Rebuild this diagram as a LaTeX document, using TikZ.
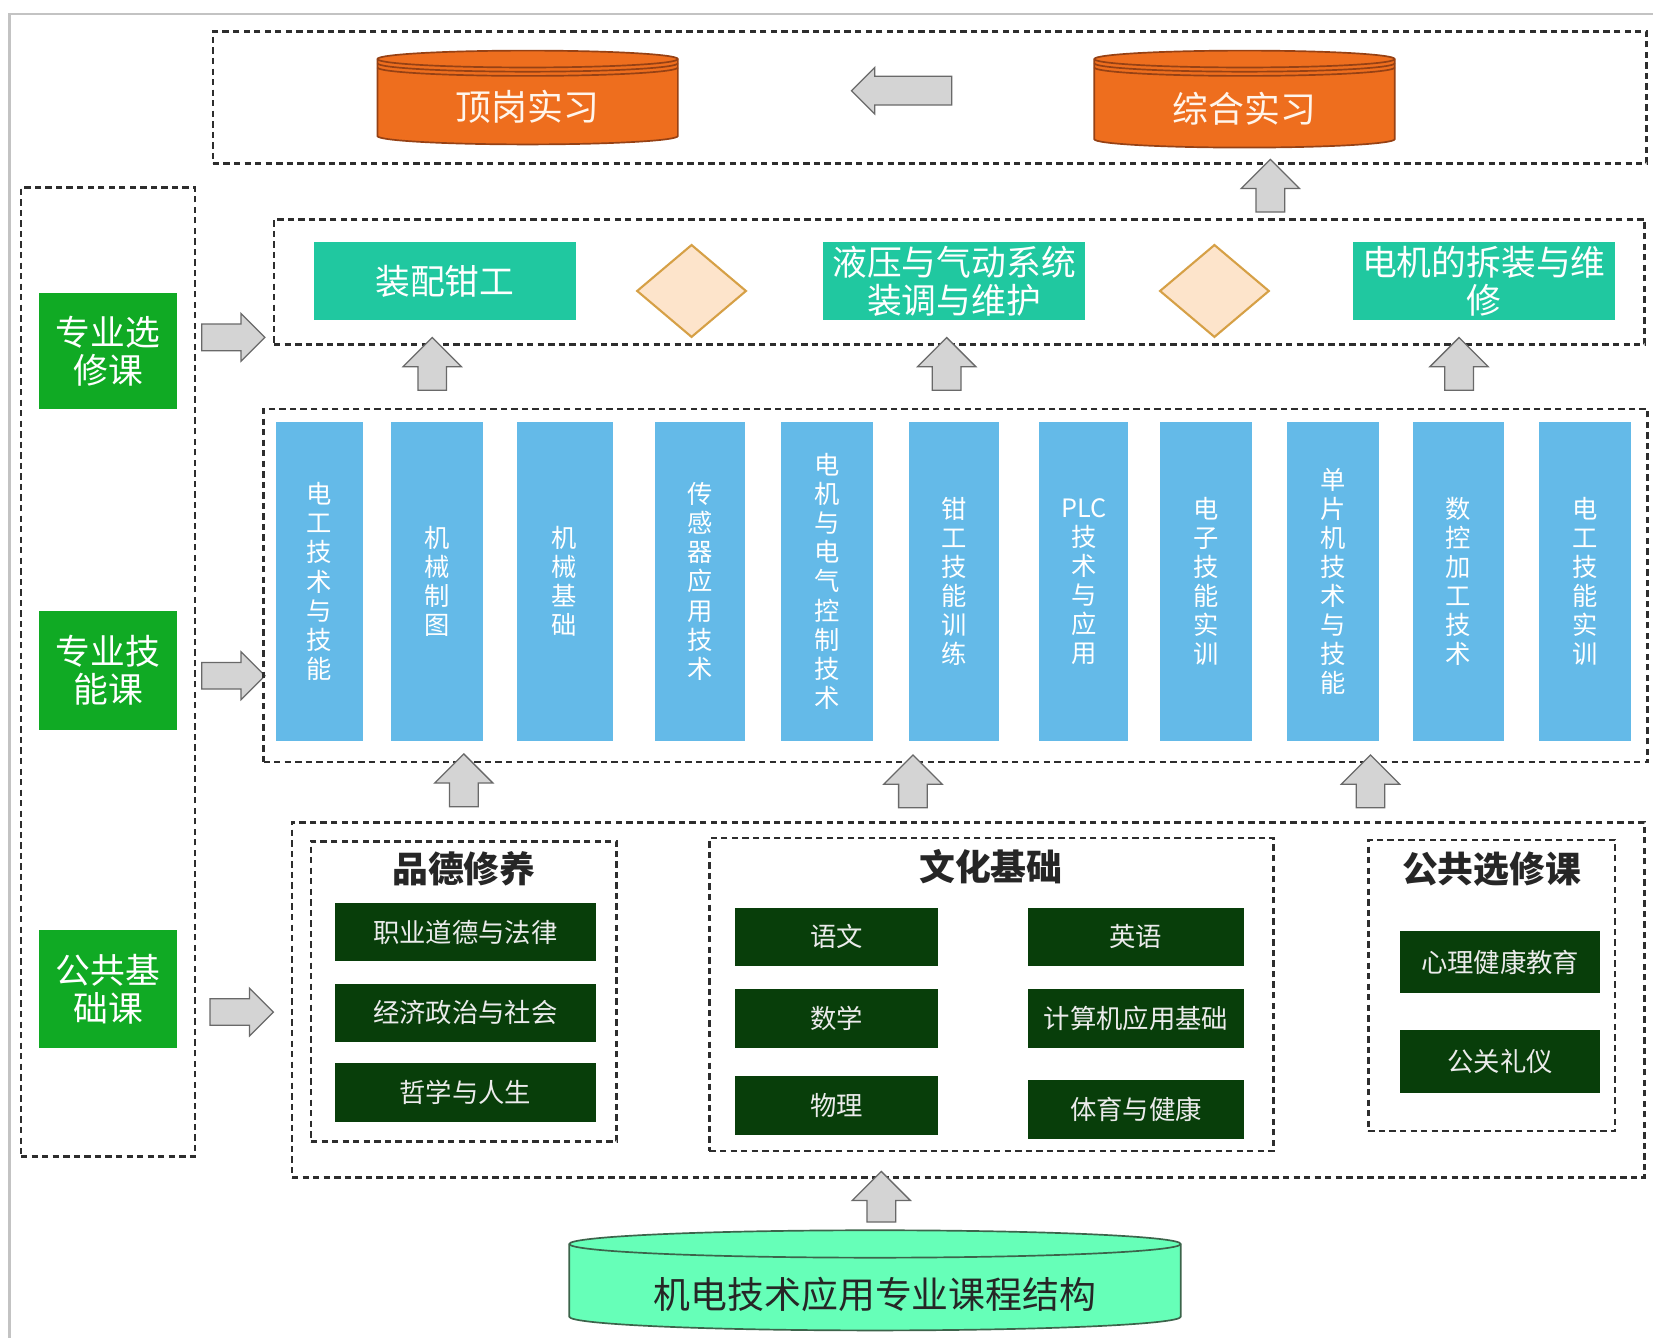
\documentclass[tikz,border=0pt]{standalone}
\usepackage{fontspec}
\setmainfont{Noto Sans CJK SC}
\usetikzlibrary{shapes.geometric,shapes.arrows}
\definecolor{lblgreen}{RGB}{16,170,36}
\definecolor{tealbox}{RGB}{32,200,160}
\definecolor{peach}{RGB}{253,228,203}
\definecolor{goldline}{RGB}{214,160,70}
\definecolor{colblue}{RGB}{100,186,232}
\definecolor{dkgreen}{RGB}{8,62,10}
\definecolor{orng}{RGB}{238,110,30}
\definecolor{orngd}{RGB}{150,65,20}
\definecolor{mint}{RGB}{102,255,184}
\definecolor{mintd}{RGB}{60,100,75}
\definecolor{arrfill}{RGB}{212,212,212}
\definecolor{arrline}{RGB}{105,105,105}
\definecolor{dashc}{RGB}{45,45,45}
\definecolor{framec}{RGB}{195,195,195}
\newcommand\rbox[7]{%
 \pgfmathsetmacro\bw{(#4-#2)*0.5}\pgfmathsetmacro\bh{(#5-#3)*0.5}%
 \node[#6, minimum width=\bw pt, minimum height=\bh pt, inner sep=0pt] (#1) at ({(#2+#4)/2},{(#3+#5)/2}) {#7};}
\newcommand\barrow[7]{% name, cx, cy, length, head, shaft, rotation
 \pgfmathsetmacro\al{#4*0.5}\pgfmathsetmacro\ah{#5*0.5}\pgfmathsetmacro\as{#6*0.25}\pgfmathsetmacro\ae{(#5-#6)*0.25}%
 \node[blockarrow, minimum height=\al pt, minimum width=\ah pt, inner sep=\as pt, single arrow head extend=\ae pt, rotate=#7] (#1) at (#2,#3) {};}
\tikzset{
 dbox/.style={draw=dashc, line width=1.2pt, dash pattern=on 3pt off 2pt},
 lbl/.style={fill=lblgreen, text=white, align=center, font=\fontsize{16.5}{18}\selectfont},
 teal/.style={fill=tealbox, text=white, align=center, font=\fontsize{16.5}{18}\selectfont},
 col/.style={fill=colblue, text=white, align=center, font=\fontsize{12}{13.8}\selectfont},
 dg/.style={fill=dkgreen, text=white!92!black, align=center, font=\fontsize{12.5}{14}\selectfont},
 ttl/.style={font=\bfseries\fontsize{17}{20}\selectfont, text=black!85},
 blockarrow/.style={single arrow, draw=arrline, fill=arrfill, line width=0.6pt, single arrow head indent=0pt},
 dia/.style={diamond, draw=goldline, fill=peach, line width=1pt, inner sep=0pt},
 cylline/.style={draw=orngd, line width=0.8pt},
}
\begin{document}
\begin{tikzpicture}[x=0.5pt,y=-0.5pt]
\useasboundingbox (0,0) rectangle (1568,1269);
\fill[white] (0,0) rectangle (1568,1269);
\draw[framec, line width=1pt] (9,1269) -- (9,13) -- (1568,13);

% ---- top row
\rbox{topbox}{202}{30}{1562}{155}{dbox}{}
% cylinder 1
\draw[cylline, fill=orng] (358,56) -- (358,129) arc[start angle=180,end angle=360,x radius=71.25pt,y radius=4pt] -- (643,56) arc[start angle=0,end angle=180,x radius=71.25pt,y radius=4pt] -- cycle;
\draw[cylline] (358,56) arc[start angle=180,end angle=360,x radius=71.25pt,y radius=4pt];
\draw[cylline] (358,60) arc[start angle=180,end angle=360,x radius=71.25pt,y radius=4pt];
\draw[cylline] (358,64) arc[start angle=180,end angle=360,x radius=71.25pt,y radius=4pt];
\node[text=white!92!orange, font=\fontsize{17}{20}\selectfont] (dgsx) at (500.5,101) {顶岗实习};
% cylinder 2
\draw[cylline, fill=orng] (1038,56) -- (1038,132) arc[start angle=180,end angle=360,x radius=71.25pt,y radius=4pt] -- (1323,56) arc[start angle=0,end angle=180,x radius=71.25pt,y radius=4pt] -- cycle;
\draw[cylline] (1038,56) arc[start angle=180,end angle=360,x radius=71.25pt,y radius=4pt];
\draw[cylline] (1038,60) arc[start angle=180,end angle=360,x radius=71.25pt,y radius=4pt];
\draw[cylline] (1038,64) arc[start angle=180,end angle=360,x radius=71.25pt,y radius=4pt];
\node[text=white!92!orange, font=\fontsize{17}{20}\selectfont] (zhsx) at (1180.5,103) {综合实习};
\barrow{aleft}{862}{86}{95}{43}{26}{180}
\barrow{aup0}{1205}{183}{50}{54}{26}{90}

% ---- left column
\rbox{leftbox}{20}{178}{185}{1097}{dbox}{}
\rbox{l1}{37}{278}{168}{388}{lbl}{专业选\\修课}
\rbox{l2}{37}{580}{168}{692}{lbl}{专业技\\能课}
\rbox{l3}{37}{882}{168}{994}{lbl}{公共基\\础课}
\barrow{ar1}{215}{320}{60}{44}{24}{0}
\barrow{ar2}{215}{641}{60}{44}{24}{0}
\barrow{ar3}{223}{960}{60}{44}{24}{0}

% ---- elective row
\rbox{elect}{260}{208}{1560}{327}{dbox}{}
\rbox{e1}{298}{230}{546}{304}{teal}{装配钳工}
\rbox{e2}{781}{230}{1029}{304}{teal}{液压与气动系统\\装调与维护}
\rbox{e3}{1283}{230}{1532}{304}{teal}{电机的拆装与维\\修}
\node[dia, minimum width=52pt, minimum height=44pt] (d1) at (656,276) {};
\node[dia, minimum width=52pt, minimum height=44pt] (d2) at (1152,276) {};
\barrow{au1}{410}{352}{50}{54}{26}{90}
\barrow{au2}{898}{352}{50}{54}{26}{90}
\barrow{au3}{1384}{352}{50}{54}{26}{90}

% ---- skills row
\rbox{skills}{250}{388}{1563}{723}{dbox}{}
\rbox{c1}{262}{400}{344}{703}{col}{电\\工\\技\\术\\与\\技\\能}
\rbox{c2}{371}{400}{458}{703}{col}{机\\械\\制\\图}
\rbox{c3}{490}{400}{581}{703}{col}{机\\械\\基\\础}
\rbox{c4}{621}{400}{707}{703}{col}{传\\感\\器\\应\\用\\技\\术}
\rbox{c5}{741}{400}{828}{703}{col}{电\\机\\与\\电\\气\\控\\制\\技\\术}
\rbox{c6}{862}{400}{948}{703}{col}{钳\\工\\技\\能\\训\\练}
\rbox{c7}{986}{400}{1070}{703}{col}{PLC\\技\\术\\与\\应\\用}
\rbox{c8}{1100}{400}{1188}{703}{col}{电\\子\\技\\能\\实\\训}
\rbox{c9}{1221}{400}{1308}{703}{col}{单\\片\\机\\技\\术\\与\\技\\能}
\rbox{c10}{1340}{400}{1427}{703}{col}{数\\控\\加\\工\\技\\术}
\rbox{c11}{1460}{400}{1547}{703}{col}{电\\工\\技\\能\\实\\训}
\barrow{au4}{440}{747}{50}{54}{26}{90}
\barrow{au5}{866}{748}{50}{54}{26}{90}
\barrow{au6}{1300}{748}{50}{54}{26}{90}

% ---- public row
\rbox{public}{277}{780}{1560}{1117}{dbox}{}
\rbox{g1}{295}{798}{585}{1083}{dbox}{}
\node[ttl] (t1) at (440,824) {品德修养};
\rbox{g11}{318}{857}{565}{912}{dg}{职业道德与法律}
\rbox{g12}{318}{933}{565}{988}{dg}{经济政治与社会}
\rbox{g13}{318}{1008}{565}{1064}{dg}{哲学与人生}
\rbox{g2}{673}{795}{1208}{1092}{dbox}{}
\node[ttl] (t2) at (940,822) {文化基础};
\rbox{g21}{697}{861}{890}{916}{dg}{语文}
\rbox{g22}{697}{938}{890}{994}{dg}{数学}
\rbox{g23}{697}{1021}{890}{1077}{dg}{物理}
\rbox{g24}{975}{861}{1180}{916}{dg}{英语}
\rbox{g25}{975}{938}{1180}{994}{dg}{计算机应用基础}
\rbox{g26}{975}{1024}{1180}{1080}{dg}{体育与健康}
\rbox{g3}{1298}{797}{1532}{1073}{dbox}{}
\node[ttl] (t3) at (1415,824) {公共选修课};
\rbox{g31}{1328}{883}{1518}{942}{dg}{心理健康教育}
\rbox{g32}{1328}{977}{1518}{1037}{dg}{公关礼仪}
\barrow{au7}{836}{1142}{48}{54}{26}{90}

% ---- bottom cylinder
\draw[mintd, fill=mint, line width=0.8pt] (540,1180) -- (540,1249) arc[start angle=180,end angle=360,x radius=145pt,y radius=6.5pt] -- (1120,1180) arc[start angle=0,end angle=180,x radius=145pt,y radius=6.5pt] -- cycle;
\draw[mintd, line width=0.8pt] (540,1180) arc[start angle=180,end angle=360,x radius=145pt,y radius=6.5pt];
\node[text=black!85, font=\fontsize{17.5}{20}\selectfont] (base) at (830,1228) {机电技术应用专业课程结构};
\end{tikzpicture}
\end{document}
